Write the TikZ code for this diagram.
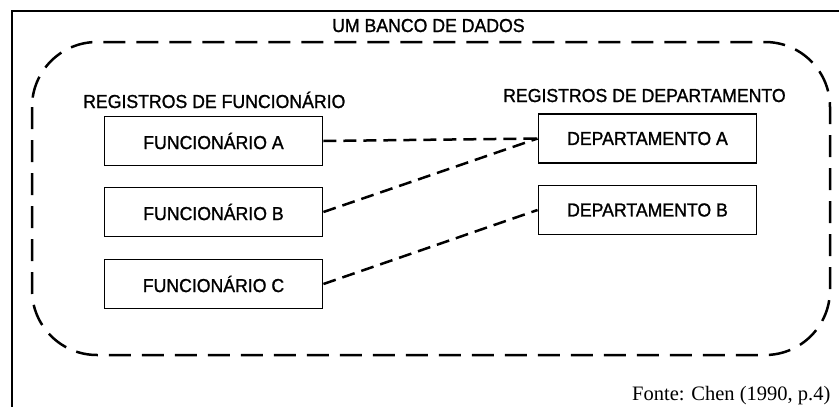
\documentclass[tikz,border=0pt]{standalone}
\usepackage{fontspec}
\setmainfont{Liberation Sans}[FakeStretch=0.94,FakeBold=1.2]
\newfontfamily\sourcefont{Liberation Serif}

\begin{document}
\begin{tikzpicture}
[x=1pt,y=-1pt,
  boxdecorate/.style={shape=rectangle,draw,line width=1.9pt,inner sep=0pt,%
    minimum width=218pt,minimum height=49pt,font=\fontsize{18.8}{20}\selectfont},%
  linedecorate/.style={-,line width=2.5pt,dash pattern=on 13pt off 7pt},%
  labeldecorate/.style={inner sep=0pt,anchor=base west,font=\fontsize{18.8}{20}\selectfont}]
\useasboundingbox (0,0) rectangle (839,407);
\clip (0,0) rectangle (839,407);
%% outer frame and data base outline
\draw[line width=2pt] (12,430) -- (12,11) -- (860,11);
\draw[line width=2.5pt,dash pattern=on 22pt off 11pt,rounded corners=65pt]
  (32,42) rectangle (830,355);
%% titles
\node (banco) at (332,32) [labeldecorate] {UM BANCO DE DADOS};
\node (regfunc) at (83,108) [labeldecorate] {REGISTROS DE FUNCIONÁRIO};
\node (regdep) at (503,102) [labeldecorate] {REGISTROS DE DEPARTAMENTO};
\node (fonte) at (632,400) [inner sep=0pt,anchor=base west,font=\sourcefont\fontsize{20.5}{24}\selectfont] {Fonte: Chen (1990, p.4)};
%% record boxes
\foreach \nodename/\x/\y/\txt in {fa/213.5/141/FUNCIONÁRIO A, fb/213.5/212/FUNCIONÁRIO B,
  fc/213.5/284/FUNCIONÁRIO C, da/647.5/138.5/DEPARTAMENTO A, db/647.5/210/DEPARTAMENTO B} {
  \node (\nodename) at (\x,\y) [boxdecorate] {\txt};
}
%% links between records
\path
\foreach \startnode/\endnode in {fa/da, fb/da, fc/db} {
  (\startnode.east) edge[linedecorate] (\endnode.west)
};
\end{tikzpicture}
\end{document}
